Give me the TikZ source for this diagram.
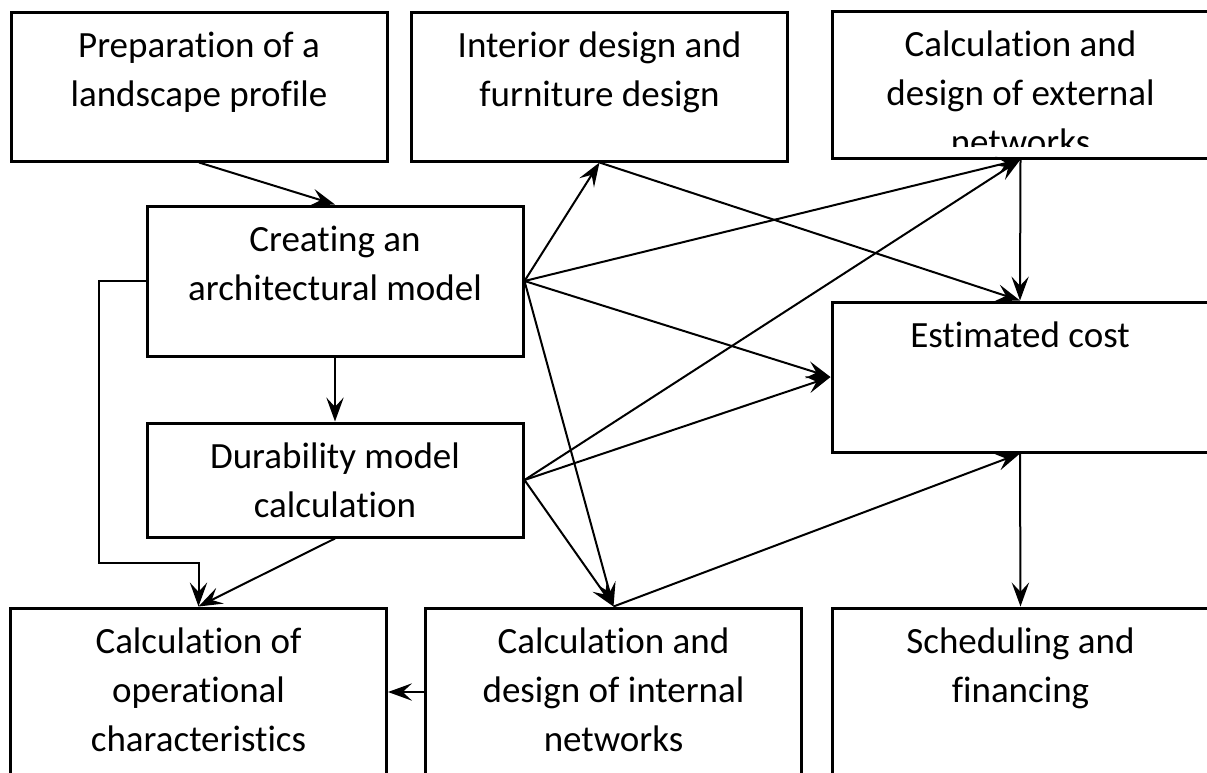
\documentclass[tikz,border=0pt]{standalone}
\usepackage{fontspec}
\setmainfont{Carlito}[Ligatures=NoCommon]
\usetikzlibrary{arrows.meta}

\tikzset{
  box/.style={draw,line width=2.25pt,minimum width=282pt,minimum height=#1,inner sep=0pt},
  txt/.style={align=center,inner sep=0pt,font=\fontsize{27.75pt}{36.75pt}\selectfont},
  conn/.style={->,line width=1.5pt}
}

\begin{document}
\begin{tikzpicture}[>={Stealth[length=18pt,width=13pt,inset=7pt]},x=0.75pt,y=-0.75pt]
	\clip (0,0) rectangle (1207,772);
	% boxes
	\node[box=111.75pt] (prep) at (199,86.5) {};
	\node[box=111.75pt] (inter) at (599.5,86.5) {};
	\node[box=110.25pt] (ext) at (1020.5,84.5) {};
	\node[box=112.5pt] (creat) at (335,281) {};
	\node[box=85.5pt] (dur) at (335,480) {};
	\node[box=112.5pt] (est) at (1020,377) {};
	\node[box=126pt] (oper) at (198.5,692) {};
	\node[box=126pt] (intern) at (613.5,692) {};
	\node[box=126pt] (sched) at (1020.5,692) {};
	% texts
	\node[txt,below=16pt] (prepT) at (prep.north) {Preparation of a\\landscape profile};
	\node[txt,below=16pt] (interT) at (inter.north) {Interior design and\\furniture design};
	\begin{scope}
		\clip (833,13) rectangle (1207,146.5);
		\node[txt,below=16pt] (extT) at (ext.north) {Calculation and\\design of external\\networks};
	\end{scope}
	\node[txt,below=16pt] (creatT) at (creat.north) {Creating an\\architectural model};
	\node[txt,below=16pt] (durT) at (dur.north) {Durability model\\calculation};
	\node[txt,below=16pt] (estT) at (est.north) {Estimated cost};
	\node[txt,below=16pt] (operT) at (oper.north) {Calculation of\\operational\\characteristics};
	\node[txt,below=16pt] (internT) at (intern.north) {Calculation and\\design of internal\\networks};
	\node[txt,below=16pt] (schedT) at (sched.north) {Scheduling and\\financing};
	% connectors
	\draw[conn] (prep.south) -- (creat.north);
	\draw[conn] (creat.east) -- (inter.south);
	\draw[conn] (inter.south) -- (est.north);
	\draw[conn] (creat.east) -- (ext.south);
	\draw[conn] (creat.east) -- (est.west);
	\draw[conn] (creat.east) -- (intern.north);
	\draw[conn] (dur.east) -- (ext.south);
	\draw[conn] (dur.east) -- (est.west);
	\draw[conn] (dur.east) -- (intern.north);
	\draw[conn] (intern.north) -- (est.south);
	\draw[conn] (ext.south) -- (est.north);
	\draw[conn] (est.south) -- (sched.north);
	\draw[conn] (creat.south) -- (dur.north);
	\draw[conn] (dur.south) -- (oper.north);
	\draw[conn] (intern.west) -- (oper.east);
	\coordinate (bend) at (99,563);
	\draw[conn] (creat.west) -| (bend) -| (oper.north);
\end{tikzpicture}
\end{document}
